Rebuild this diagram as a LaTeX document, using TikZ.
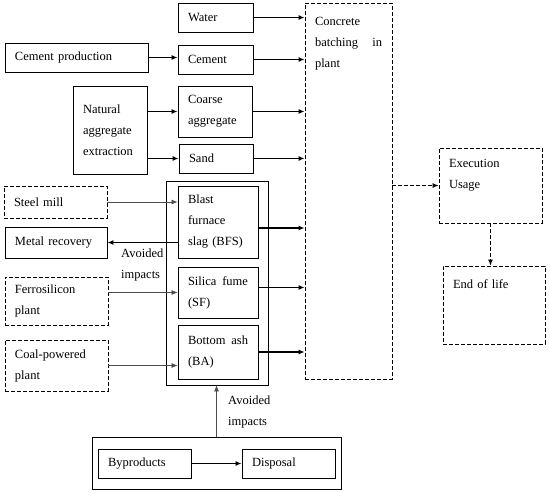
\documentclass[tikz,border=0pt]{standalone}
\usepackage{fontspec}
\setmainfont{Liberation Serif}
\usetikzlibrary{arrows.meta, positioning}
\newcommand{\boxfont}{\fontsize{12.5}{21}\selectfont}
\tikzset{
  box/.style   = {draw, line width=0.8pt, inner xsep=10pt, inner ysep=0pt,
                  align=left, font=\boxfont},
  dbox/.style  = {box, dash pattern=on 4pt off 2pt},
  frame/.style = {draw, line width=0.8pt, inner sep=0pt},
  flow/.style  = {-{Latex[length=6pt, width=5pt]}, line width=1.2pt},
  feed/.style  = {-{Latex[length=6pt, width=5pt]}, line width=0.7pt, black!70},
  dflow/.style = {flow, line width=1pt, dash pattern=on 4pt off 2pt},
  lbl/.style   = {align=left, font=\boxfont, inner sep=0pt},
}

\begin{document}
\begin{tikzpicture}[x=1pt,y=-1pt]
  \useasboundingbox (0,0) rectangle (550,493);

  % frames round the byproducts
  \node[frame, minimum width=102pt, minimum height=204pt] (group) at (217,283) {};
  \node[frame, minimum width=249pt, minimum height=52pt] (bottom) at (216.5,463) {};

  % raw materials
  \node[box, text width=55pt, minimum height=29pt] (water) at (215.5,17.5) {Water};
  \node[box, text width=55pt, minimum height=29pt] (cement) at (215.5,59.5) {Cement};
  \node[box, text width=54pt, minimum height=51pt] (coarse) at (215,111.5) {Coarse\\aggregate};
  \node[box, text width=54pt, minimum height=29pt] (sand) at (216,158.5) {Sand};
  \node[box, text width=123pt, minimum height=29pt] (cemprod) at (76.5,57.5) {Cement production};
  \node[box, text width=54pt, minimum height=88pt] (natagg) at (110,130) {Natural\\aggregate\\extraction};

  % byproducts
  \node[box, text width=60pt, minimum height=72pt] (bfs) at (218,222) {Blast\\furnace\\slag (BFS)};
  \node[box, text width=60pt, minimum height=51pt, align=justify] (sf) at (218,292.5) {Silica\hfill fume\\(SF)};
  \node[box, text width=60pt, minimum height=54pt, align=justify] (ba) at (218,352) {Bottom\hfill ash\\(BA)};
  \node[dbox, text width=83pt, minimum height=32pt] (steel) at (55.5,202) {Steel mill};
  \node[box, text width=82pt, minimum height=31pt] (metal) at (56,242.5) {Metal recovery};
  \node[dbox, text width=83pt, minimum height=48pt] (ferro) at (56.5,301) {Ferrosilicon\\plant};
  \node[dbox, text width=83pt, minimum height=51pt] (coal) at (56.5,365.5) {Coal-powered\\plant};
  \node[box, text width=73pt, minimum height=29pt] (byp) at (144.5,463.5) {Byproducts};
  \node[box, text width=73pt, minimum height=29pt] (disp) at (288.5,463.5) {Disposal};

  % plant and later stages
  \node[dbox, align=justify, text width=67pt, text height=14pt, text depth=346pt,
        inner ysep=8pt] (conc) at (348.5,191) {Concrete\\batching\hfill in\\plant};
  \node[dbox, text width=83pt, text height=13pt, text depth=50pt,
        inner ysep=6pt] (exec) at (490.5,185.5) {Execution\\Usage};
  \node[dbox, text width=82pt, text height=14pt, text depth=48pt,
        inner ysep=8pt] (eol) at (494,305) {End of life};

  \node[lbl, anchor=north west] (avoidA) at (121,249) {Avoided\\impacts};
  \node[lbl, anchor=north west] (avoidB) at (228,396) {Avoided\\impacts};

  % connectors
  \coordinate (bfsout) at ([yshift=-6pt]bfs.east);
  \coordinate (sfout) at ([yshift=5pt]sf.east);
  \draw[flow] (water.east) -- (water.east -| conc.west);
  \draw[flow] (cement.east) -- (cement.east -| conc.west);
  \draw[flow] (coarse.east) -- (coarse.east -| conc.west);
  \draw[flow] (sand.east) -- (sand.east -| conc.west);
  \draw[flow] (bfsout) -- (bfsout -| conc.west);
  \draw[flow] (sfout) -- (sfout -| conc.west);
  \draw[flow] (ba.east) -- (ba.east -| conc.west);
  \draw[flow] (cemprod.east) -- (cemprod.east -| cement.west);
  \draw[flow] (coarse.west -| natagg.east) -- (coarse.west);
  \draw[flow] (sand.west -| natagg.east) -- (sand.west);
  \draw[feed] (steel.east) -- (steel.east -| bfs.west);
  \draw[flow] (bfs.west |- metal.east) -- (metal.east);
  \draw[feed] (sf.west -| ferro.east) -- (sf.west);
  \draw[feed] (coal.east) -- (coal.east -| ba.west);
  \draw[dflow] (exec.west -| conc.east) -- (exec.west);
  \draw[dflow] (exec.south) -- (exec.south |- eol.north);
  \draw[feed] (bottom.north) -- (bottom.north |- group.south);
  \draw[flow] (byp) -- (disp);
\end{tikzpicture}
\end{document}
